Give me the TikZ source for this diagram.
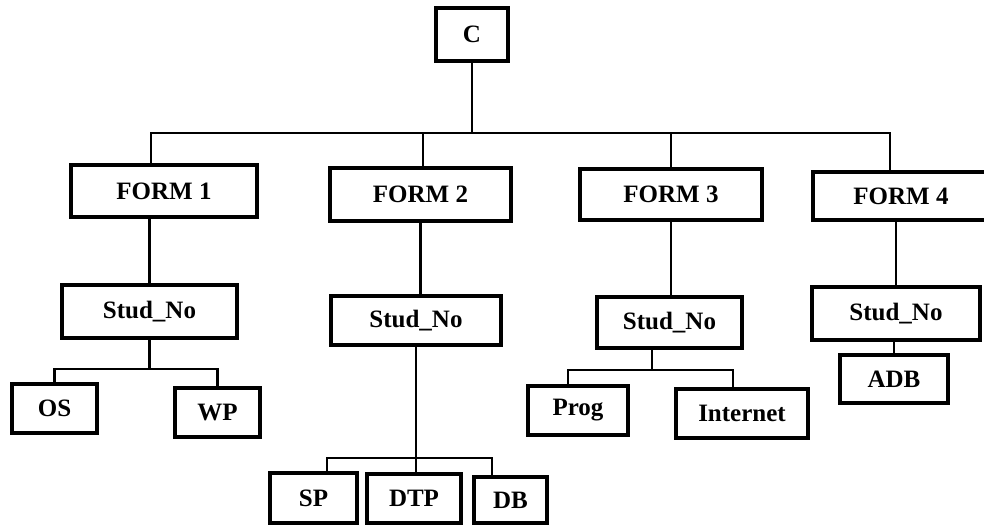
\documentclass[tikz,border=0pt]{standalone}
\usepackage{fontspec}
\setmainfont{Liberation Serif}
\begin{document}
\begin{tikzpicture}[x=0.5pt,y=-0.5pt,
  bx/.style={draw=black,line width=1.6pt,rectangle,inner sep=0pt,
    font=\fontsize{12.5}{14}\selectfont\bfseries},
  conn/.style={draw=black,line width=1.3pt,line join=miter}]
\useasboundingbox[fill=white] (0,0) rectangle (984,525);

% nodes
\node[bx,minimum width=36pt,minimum height=26.5pt] (C) at (472,34.5) {C};
\node[bx,minimum width=93pt,minimum height=26pt] (F1) at (164,191) {FORM 1};
\node[bx,minimum width=90.5pt,minimum height=26.5pt] (F2) at (420.5,194.5) {FORM 2};
\node[bx,minimum width=91pt,minimum height=25.5pt] (F3) at (671,194.5) {FORM 3};
\node[bx,minimum width=88pt,minimum height=24pt] (F4) at (901,196) {FORM 4};

\node[bx,minimum width=87.5pt,minimum height=26.5pt] (S1) at (149.5,311.5) {Stud\_No};
\node[bx,minimum width=85pt,minimum height=24.5pt] (S2) at (416,320.5) {Stud\_No};
\node[bx,minimum width=72.5pt,minimum height=25.5pt] (S3) at (669.5,322.5) {Stud\_No};
\node[bx,minimum width=84pt,minimum height=26.5pt] (S4) at (896,313.5) {Stud\_No};

\node[bx,minimum width=42.5pt,minimum height=24.5pt] (OS) at (54.5,408.5) {OS};
\node[bx,minimum width=42.5pt,minimum height=24.5pt] (WP) at (217.5,412.5) {WP};
\node[bx,minimum width=43.5pt,minimum height=25pt] (SP) at (313.5,498) {SP};
\node[bx,minimum width=47pt,minimum height=24.5pt] (DTP) at (414,498.5) {DTP};
\node[bx,minimum width=36.5pt,minimum height=23pt] (DB) at (510.5,500) {DB};
\node[bx,minimum width=50pt,minimum height=24.5pt] (Prog) at (578,410.5) {Prog};
\node[bx,minimum width=66pt,minimum height=24.5pt] (Int) at (742,413.5) {Internet};
\node[bx,minimum width=54pt,minimum height=24pt] (ADB) at (894,379) {ADB};

% junction coordinates
\coordinate (jF1) at (151,133);
\coordinate (jF2) at (423,133);
\coordinate (jF3) at (671,133);
\coordinate (jF4) at (890,133);
\coordinate (k1) at (0,369);
\coordinate (k2a) at (327,458);
\coordinate (k2b) at (492,458);
\coordinate (k3a) at (568,370);
\coordinate (k3b) at (733,370);
\coordinate (k3c) at (652,370);

% top level
\draw[conn] (C.south) -- (C.south |- jF1);
\draw[conn] (jF1 |- F1.north) -- (jF1) -- (jF4) -- (jF4 |- F4.north);
\draw[conn] (jF2) -- (jF2 |- F2.north);
\draw[conn] (jF3) -- (jF3 |- F3.north);

% forms to Stud_No
\draw[conn] (S1.north) -- (S1.north |- F1.south);
\draw[conn] (F2.south) -- (F2.south |- S2.north);
\draw[conn] (F3.south) -- (F3.south |- S3.north);
\draw[conn] (S4.north) -- (S4.north |- F4.south);

% Stud_No 1
\draw[conn] (S1.south) -- (S1.south |- k1);
\draw[conn] (OS.north) -- (OS.north |- k1) -- (WP.north |- k1) -- (WP.north);

% Stud_No 2
\draw[conn] (S2.south) -- (S2.south |- DTP.north);
\draw[conn] (k2a |- SP.north) -- (k2a) -- (k2b) -- (k2b |- DB.north);

% Stud_No 3
\draw[conn] (k3c |- S3.south) -- (k3c);
\draw[conn] (k3a |- Prog.north) -- (k3a) -- (k3b) -- (k3b |- Int.north);

% Stud_No 4
\draw[conn] (ADB.north) -- (ADB.north |- S4.south);
\end{tikzpicture}
\end{document}
